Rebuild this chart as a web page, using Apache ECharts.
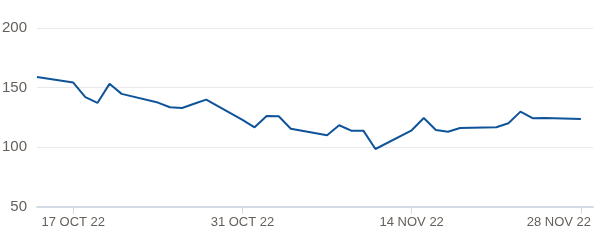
<!DOCTYPE html>
<html>
<head>
<meta charset="utf-8">
<script src="https://cdn.jsdelivr.net/npm/echarts@6/dist/echarts.min.js"></script>
<style>
html,body{margin:0;padding:0;background:#fff;}
#c{width:600px;height:246px;}
</style>
</head>
<body>
<div id="c"></div>
<script>
const dates = ["2022-10-14","2022-10-17","2022-10-18","2022-10-19","2022-10-20","2022-10-21",
  "2022-10-24","2022-10-25","2022-10-26","2022-10-27","2022-10-28","2022-10-31",
  "2022-11-01","2022-11-02","2022-11-03","2022-11-04","2022-11-07","2022-11-08",
  "2022-11-09","2022-11-10","2022-11-11","2022-11-14","2022-11-15","2022-11-16",
  "2022-11-17","2022-11-18","2022-11-21","2022-11-22","2022-11-23","2022-11-24",
  "2022-11-25","2022-11-28"];
const values = [159,154.3,142,137.2,153.2,144.8,
  137.5,133.6,133,136.5,140,123,
  116.8,126.3,126,115.6,110.1,118.5,
  114,114,98.6,114.3,124.6,114.5,
  113.1,116.2,116.8,120.2,129.9,124.4,
  124.6,123.8];
const tickDates = ["2022-10-17","2022-10-31","2022-11-14","2022-11-28"];
const axisStart = "2022-10-14";
const axisEnd = "2022-11-29";
const yTicks = [50,100,150,200];

const months = ["JAN","FEB","MAR","APR","MAY","JUN","JUL","AUG","SEP","OCT","NOV","DEC"];
function ts(s){const p=s.split("-").map(Number);return Date.UTC(p[0],p[1]-1,p[2]);}
const lastTick = ts(tickDates[tickDates.length-1]);
function fmt(v){
  const d=new Date(v);
  const s=d.getUTCDate()+" "+months[d.getUTCMonth()]+" "+String(d.getUTCFullYear()).slice(2);
  return v===lastTick ? '{last|'+s+'}' : s;
}

const chart = echarts.init(document.getElementById('c'), null, {renderer:'canvas'});
chart.setOption({
  animation:false,
  grid:{left:37,right:7,top:28,bottom:39,containLabel:false,outerBoundsMode:'none'},
  xAxis:{
    type:'value',
    min:ts(axisStart),max:ts(axisEnd),
    axisLine:{show:true,lineStyle:{color:'#d3dbe6',width:2}},
    axisTick:{show:true,length:7,customValues:tickDates.map(ts),lineStyle:{color:'#d3dbe6',width:1}},
    axisLabel:{customValues:tickDates.map(ts),formatter:fmt,color:'#66605c',fontSize:13,
      fontFamily:'Liberation Sans, Arial, sans-serif',margin:9,hideOverlap:false,
      rich:{last:{padding:[0,44,0,0],color:'#66605c',fontSize:13,fontFamily:'Liberation Sans, Arial, sans-serif'}}},
    splitLine:{show:false}
  },
  yAxis:{
    type:'value',min:yTicks[0],max:yTicks[yTicks.length-1],interval:50,
    axisLine:{show:false},axisTick:{show:false},
    axisLabel:{color:'#66605c',fontSize:15,fontFamily:'Liberation Sans, Arial, sans-serif',margin:10},
    splitLine:{lineStyle:{color:'#e7e9ee',width:1}}
  },
  series:[{
    type:'line',
    data:dates.map((d,i)=>[ts(d),values[i]]),
    showSymbol:false,
    lineStyle:{color:'#0f5499',width:2},
    itemStyle:{color:'#0f5499'}
  }]
});
</script>
</body>
</html>
